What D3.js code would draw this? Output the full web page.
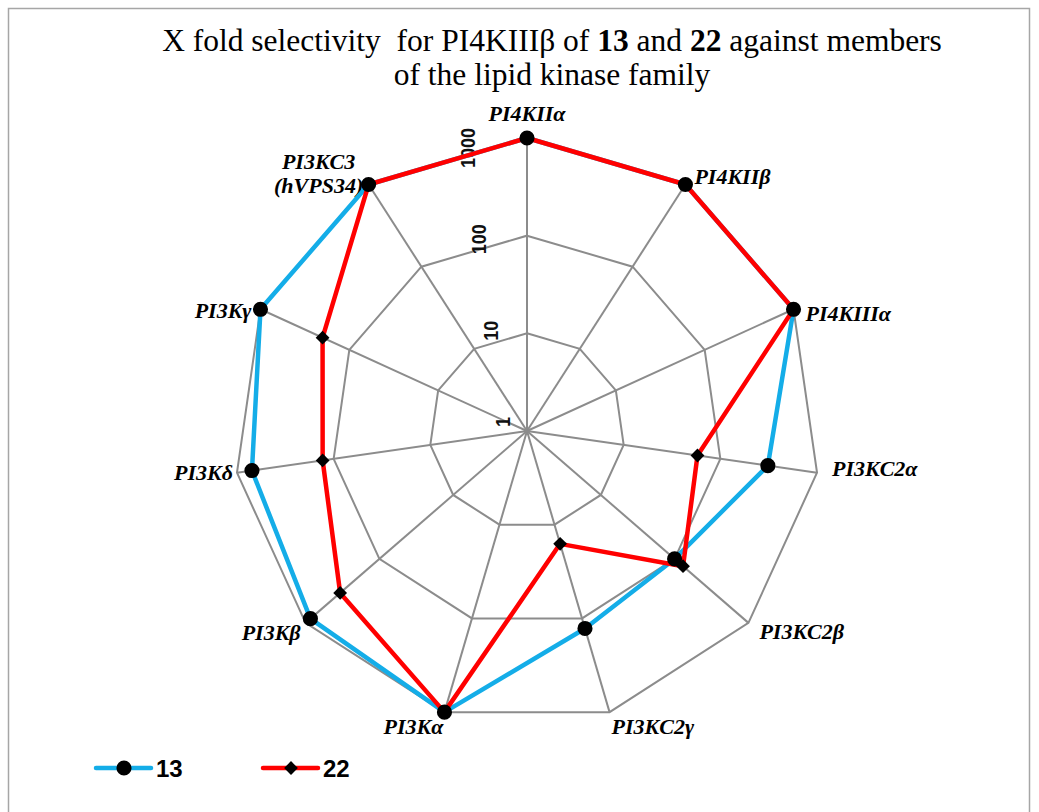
<!DOCTYPE html>
<html>
<head>
<meta charset="utf-8">
<script src="https://cdn.jsdelivr.net/npm/d3@7"></script>
<style>
  body { margin: 0; background: #fff; }
  svg { display: block; }
</style>
</head>
<body>
<div id="chart"></div>
<script>
// Data //////////////////////////////////////////////////////////////////
const categories = ['PI4KIIα', 'PI4KIIβ', 'PI4KIIIα', 'PI3KC2α', 'PI3KC2β', 'PI3KC2γ',
    'PI3Kα', 'PI3Kβ', 'PI3Kδ', 'PI3Kγ', 'PI3KC3 (hVPS34)']
const values13 = [1000, 1000, 1000, 310, 100, 128, 1000, 860, 700, 1000, 1000]
const values22 = [1000, 1000, 1000, 58, 130, 16, 1000, 340, 130, 200, 1000]
const tickValues = [1, 10, 100, 1000]
const seriesNames = ['13', '22']
/////////////////////////////////////////////////////////////////////////

const dims = { width: 1039, height: 812, cx: 527, cy: 431, radius: 293 }

// label nudges from the outer vertex (baseline position), Excel-like placement
const labelNudge = [[0, -17], [9, -1], [12, 12], [15, 3], [11, 16], [2, 22],
    [-1, 22], [-5, 17], [-4, 7], [-9, 9], [-50, -16]]

const svg = d3.select('#chart')
    .append('svg')
    .attr('width', dims.width)
    .attr('height', dims.height)

// border round the chart area
svg.append('rect')
    .attr('x', 8.5).attr('y', 8.5)
    .attr('width', 1021).attr('height', 830)
    .attr('fill', 'none')
    .attr('stroke', '#a6a6a6')
    .attr('stroke-width', 1.5)

// title
const title = svg.append('text')
    .attr('text-anchor', 'middle')
    .style('font-family', '"Liberation Serif", "Times New Roman", serif')
    .style('font-size', '31.5px')
    .style('white-space', 'pre')
    .attr('fill', '#000')
title.append('tspan').attr('x', 552).attr('y', 51)
    .text('X fold selectivity  for PI4KIIIβ of ')
title.append('tspan').style('font-weight', 'bold').text('13')
title.append('tspan').text(' and ')
title.append('tspan').style('font-weight', 'bold').text('22')
title.append('tspan').text(' against members')
title.append('tspan').attr('x', 552).attr('y', 85).text('of the lipid kinase family')

const ctr = svg.append('g')
    .attr('transform', `translate(${dims.cx}, ${dims.cy})`)

// Scales
const rScale = d3.scaleLog()
    .domain([1, 1000])
    .range([0, dims.radius])

const angle = d3.scalePoint()
    .domain(d3.range(categories.length + 1))
    .range([0, 2 * Math.PI])

const pt = (i, v) => {
    const a = angle(i), r = rScale(v)
    return [r * Math.sin(a), -r * Math.cos(a)]
}

// Grid rings
const ring = d3.line().curve(d3.curveLinearClosed)
tickValues.filter(t => t > 1).forEach(t => {
    ctr.append('path')
        .attr('d', ring(categories.map((c, i) => pt(i, t))))
        .attr('fill', 'none')
        .attr('stroke', '#8c8c8c')
        .attr('stroke-width', 2)
})

// Spokes
ctr.selectAll('.spoke')
    .data(categories)
    .join('line')
    .attr('class', 'spoke')
    .attr('x1', 0).attr('y1', 0)
    .attr('x2', (d, i) => pt(i, 1000)[0])
    .attr('y2', (d, i) => pt(i, 1000)[1])
    .attr('stroke', '#8c8c8c')
    .attr('stroke-width', 2)

// Tick labels (rotated, beside the first spoke)
ctr.selectAll('.tick-label')
    .data(tickValues)
    .join('text')
    .attr('class', 'tick-label')
    .attr('transform', (d, i) =>
        `translate(${-24 - 11.7 * i}, ${-rScale(d) - 9 + 6.3 * i}) scale(1.12, 1) rotate(-90)`)
    .attr('text-anchor', 'middle')
    .attr('dominant-baseline', 'central')
    .style('font-family', '"Liberation Sans", Arial, sans-serif')
    .style('font-size', '18px')
    .style('font-weight', 'bold')
    .attr('fill', '#111')
    .text(d => d)

// Category labels
ctr.selectAll('.cat-label')
    .data(categories)
    .join('text')
    .attr('class', 'cat-label')
    .style('font-family', '"Liberation Serif", "Times New Roman", serif')
    .style('font-size', '22px')
    .style('font-weight', 'bold')
    .style('font-style', 'italic')
    .attr('fill', '#000')
    .attr('text-anchor', (d, i) => {
        const s = Math.sin(angle(i))
        if (d.includes(' ')) return 'middle'
        return Math.abs(s) < 0.1 ? 'middle' : (s > 0 ? 'start' : 'end')
    })
    .each(function (d, i) {
        const [x, y] = pt(i, 1000)
        const lx = x + labelNudge[i][0]
        const ly = y + labelNudge[i][1]
        const t = d3.select(this)
        d.split(' ').forEach((p, k) => {
            t.append('tspan')
                .attr('x', lx)
                .attr('y', ly + k * 24)
                .text(p)
        })
    })

// Series
const series = [
    { name: seriesNames[0], values: values13, color: '#14ade8', marker: 'circle' },
    { name: seriesNames[1], values: values22, color: '#ff0000', marker: 'diamond' }
]

const radarLine = d3.line().curve(d3.curveLinearClosed)

series.forEach(s => {
    ctr.append('path')
        .attr('d', radarLine(s.values.map((v, i) => pt(i, v))))
        .attr('fill', 'none')
        .attr('stroke', s.color)
        .attr('stroke-width', 4.5)
        .attr('stroke-linejoin', 'round')
})

const symCircle = d3.symbol().type(d3.symbolCircle).size(180)
const symDiamond = d3.symbol().type(d3.symbolSquare).size(95)

series.forEach(s => {
    ctr.append('g')
        .selectAll('path')
        .data(s.values)
        .join('path')
        .attr('d', s.marker === 'circle' ? symCircle() : symDiamond())
        .attr('transform', (v, i) => {
            const [x, y] = pt(i, v)
            return `translate(${x}, ${y})` + (s.marker === 'diamond' ? ' rotate(45)' : '')
        })
        .attr('fill', '#000')
})

// Legend
const legend = svg.append('g')
series.forEach((s, k) => {
    const x0 = 96 + k * 167
    const g = legend.append('g').attr('transform', `translate(${x0}, 768)`)
    g.append('line')
        .attr('x1', 0).attr('x2', 55)
        .attr('stroke', s.color)
        .attr('stroke-width', 4.5)
        .attr('stroke-linecap', 'round')
    g.append('path')
        .attr('d', s.marker === 'circle' ? symCircle() : symDiamond())
        .attr('transform', 'translate(28, 0)' + (s.marker === 'diamond' ? ' rotate(45)' : ''))
        .attr('fill', '#000')
    g.append('text')
        .attr('x', 60)
        .attr('dominant-baseline', 'central')
        .style('font-family', '"Liberation Sans", Arial, sans-serif')
        .style('font-size', '24px')
        .style('font-weight', 'bold')
        .attr('fill', '#000')
        .text(s.name)
})
</script>
</body>
</html>
